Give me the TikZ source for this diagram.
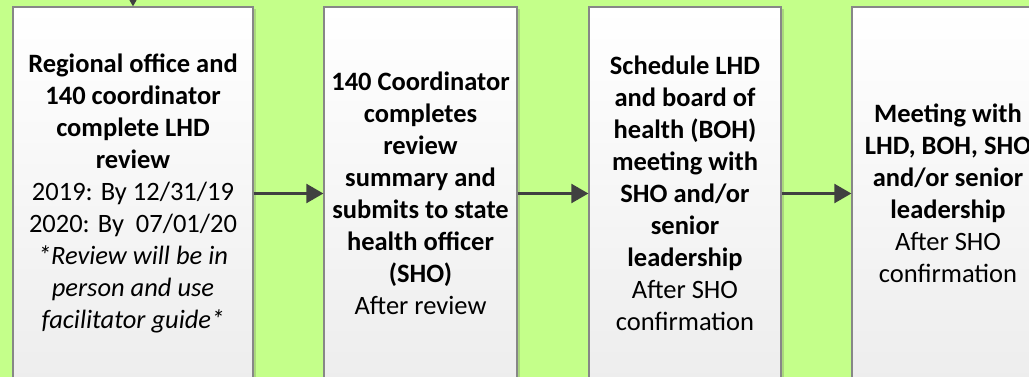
\documentclass[tikz,border=0pt]{standalone}
\usepackage{fontspec}
\setmainfont{Carlito}
\usetikzlibrary{arrows.meta,shadows}
\definecolor{bggreen}{RGB}{196,255,138}
\definecolor{shgreen}{RGB}{170,215,125}
\definecolor{boxline}{RGB}{135,135,135}
\definecolor{arrowgray}{RGB}{64,64,64}
\tikzset{
  stepbox/.style={draw=boxline, line width=1.3pt, top color=white, bottom color=black!7,
    align=center, inner sep=0pt, minimum height=373pt,
    font=\fontsize{26.5}{32}\selectfont,
    drop shadow={shadow xshift=3pt, shadow yshift=-2pt, fill=shgreen, opacity=1}},
  arr/.style={draw=arrowgray, line width=2.4pt, -{Triangle[length=17pt,width=19pt]}},
}
\begin{document}
\begin{tikzpicture}[x=1pt,y=-1pt]
\useasboundingbox (0,0) rectangle (1029,377);
\clip (0,0) rectangle (1029,377);
\fill[bggreen] (0,0) rectangle (1029,377);
\node[stepbox, minimum width=240pt] (b1) at (133,193.5)
  {\textbf{Regional office and}\\ \textbf{140 coordinator}\\ \textbf{complete LHD}\\ \textbf{review}\\
   2019: By 12/31/19\\ 2020: By\ \ 07/01/20\\ \textit{*Review will be in}\\ \textit{person and use}\\ \textit{facilitator guide*}};
\node[stepbox, minimum width=193pt] (b2) at (420.5,193.5)
  {\textbf{140 Coordinator}\\ \textbf{completes}\\ \textbf{review}\\ \textbf{summary and}\\ \textbf{submits to state}\\ \textbf{health officer}\\ \textbf{(SHO)}\\ After review};
\node[stepbox, minimum width=192pt] (b3) at (685,193.5)
  {\textbf{Schedule LHD}\\ \textbf{and board of}\\ \textbf{health (BOH)}\\ \textbf{meeting with}\\ \textbf{SHO and/or}\\ \textbf{senior}\\ \textbf{leadership}\\ After SHO\\ confirmation};
\node[stepbox, minimum width=192pt] (b4) at (948,193.5)
  {\textbf{Meeting with}\\ \textbf{LHD, BOH, SHO}\\ \textbf{and/or senior}\\ \textbf{leadership}\\ After SHO\\ confirmation};
\coordinate (top) at (133,-12);
\draw[arr] (top) -- (b1.north);
\draw[arr] (b1.east) -- (b2.west);
\draw[arr] (b2.east) -- (b3.west);
\draw[arr] (b3.east) -- (b4.west);
\end{tikzpicture}
\end{document}
